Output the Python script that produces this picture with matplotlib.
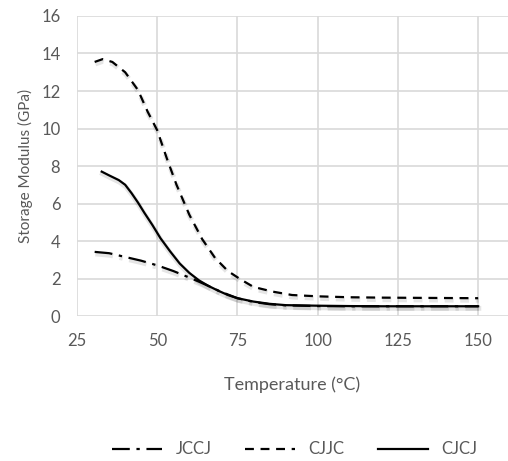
import matplotlib
matplotlib.use("Agg")
import matplotlib.pyplot as plt
import matplotlib.patheffects as pe

# Storage modulus vs temperature
temp_jccj = [30.5, 35, 40, 45, 50, 55, 60, 63, 66, 70, 75, 80, 85, 90, 100, 110, 120, 130, 140, 150]
mod_jccj = [3.42, 3.35, 3.15, 2.95, 2.7, 2.4, 2.05, 1.83, 1.6, 1.28, 0.95, 0.75, 0.63, 0.57, 0.53, 0.52, 0.52, 0.52, 0.52, 0.52]

temp_cjjc = [30.5, 33, 36, 40, 44, 47, 50, 53, 56, 60, 64, 68, 72, 76, 80, 86, 92, 100, 110, 120, 130, 140, 150]
mod_cjjc = [13.55, 13.7, 13.55, 13.0, 12.05, 10.9, 9.9, 8.4, 7.0, 5.4, 4.1, 3.1, 2.4, 1.95, 1.55, 1.3, 1.12, 1.05, 1.0, 0.98, 0.97, 0.96, 0.95]

temp_cjcj = [32.7, 35, 38, 40, 42, 44, 46, 48.5, 51, 54, 57, 60, 63, 66, 69, 72, 75, 80, 85, 90, 100, 110, 120, 130, 140, 150]
mod_cjcj = [7.7, 7.5, 7.25, 7.0, 6.55, 6.05, 5.5, 4.85, 4.15, 3.45, 2.8, 2.3, 1.9, 1.6, 1.35, 1.12, 0.95, 0.77, 0.65, 0.58, 0.55, 0.53, 0.52, 0.52, 0.52, 0.52]

x_ticks = [25, 50, 75, 100, 125, 150]
y_ticks = [0, 2, 4, 6, 8, 10, 12, 14, 16]

plt.rcParams["font.family"] = ["Lato", "DejaVu Sans"]
grey = "#595959"

fig = plt.figure(figsize=(5.08, 4.61), dpi=100)
ax = fig.add_axes([0.1516, 0.3145, 0.8484, 0.6508])

shadow = [pe.SimpleLineShadow(offset=(0.5, -1.5), alpha=0.1, shadow_color="black", linewidth=3.5),
          pe.Normal()]

ax.plot(temp_jccj, mod_jccj, color="black", lw=1.6, dashes=(8, 3, 1.5, 3),
        label="JCCJ", path_effects=shadow)
ax.plot(temp_cjjc, mod_cjjc, color="black", lw=1.6, dashes=(4, 3),
        label="CJJC", path_effects=shadow)
ax.plot(temp_cjcj, mod_cjcj, color="black", lw=1.6, label="CJCJ", path_effects=shadow)

ax.set_xlim(25, 159.3)
ax.set_ylim(0, 16)
ax.set_xticks(x_ticks)
ax.set_yticks(y_ticks)
ax.grid(True, color="#d9d9d9", lw=1.2)
ax.set_axisbelow(True)
for s in ax.spines.values():
    s.set_visible(False)
ax.tick_params(length=0, labelsize=12, labelcolor=grey)
ax.tick_params(axis="x", pad=12)
ax.tick_params(axis="y", pad=12)

ax.set_xlabel("Temperature (°C)", fontsize=13, color=grey, labelpad=20)
ax.set_ylabel("Storage Modulus (GPa)", fontsize=11, color=grey, labelpad=6)

leg = fig.legend(loc="center", bbox_to_anchor=(0.58, 0.025), ncol=3, frameon=False,
                 fontsize=12, handlelength=3.0, columnspacing=2.0, handletextpad=0.8)
for t in leg.get_texts():
    t.set_color(grey)
for h in leg.legend_handles:
    h.set_path_effects([])

fig.savefig("out.png", dpi=100)
